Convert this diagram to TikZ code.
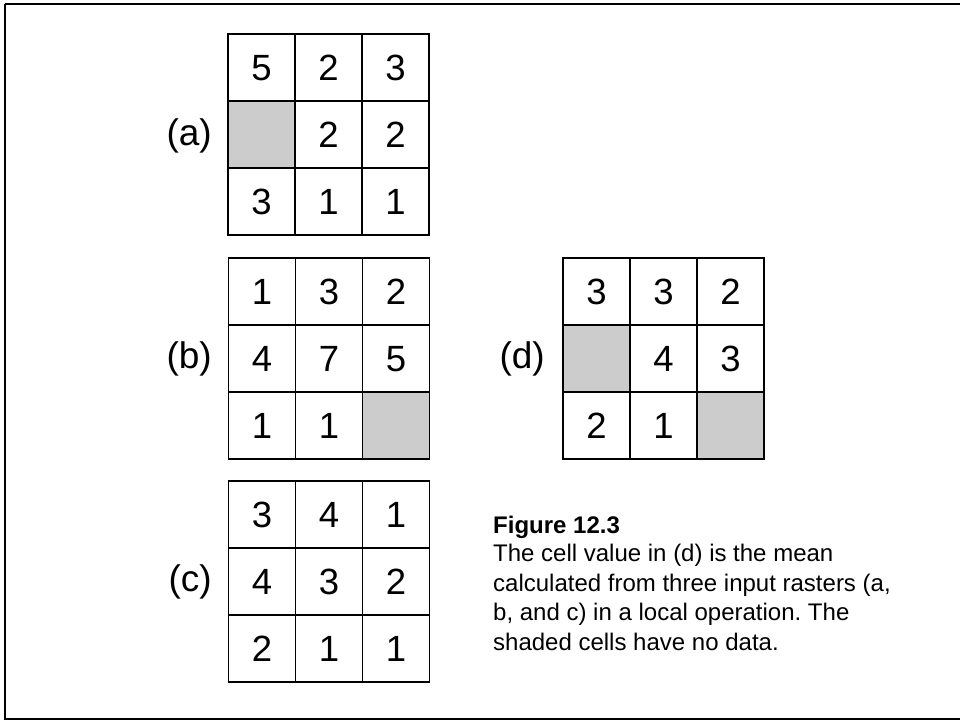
\documentclass[tikz,border=0pt]{standalone}
\usepackage{fontspec}
\setmainfont{Liberation Sans}
\frenchspacing
\definecolor{cellgray}{RGB}{204,204,204}
\tikzset{
  cell/.style={draw=black, line width=1.8pt, minimum size=67pt, inner sep=0pt,
    text height=26pt, text depth=0pt,
    font=\fontsize{36.5}{43}\selectfont},
  gridlabel/.style={anchor=east, inner sep=0pt, font=\fontsize{37}{44}\selectfont},
  captext/.style={anchor=base west, inner sep=0pt, font=\fontsize{24}{29}\selectfont},
  frame/.style={draw=black, line width=2.6pt}
}
\newcommand{\rastergrid}[4]{%
  \foreach \v/\f [count=\i from 0] in {#4} {
    \pgfmathtruncatemacro{\cc}{mod(\i,3)}
    \pgfmathtruncatemacro{\rr}{int(\i/3)}
    \node[cell, fill=\f] (#1-\rr-\cc) at ({#2+33.5+67*\cc},{#3+33.5+67*\rr}) {\v};
  }
}
\begin{document}
\begin{tikzpicture}[x=1pt,y=-1pt]
\useasboundingbox (0,0) rectangle (960,721);
\draw[frame] (5,4) -- (970,4);
\draw[frame] (5,4) -- (5,719) -- (970,719);

\rastergrid{a}{228}{34}{5/white,2/white,3/white,{}/cellgray,2/white,2/white,3/white,1/white,1/white}
\rastergrid{b}{228.5}{258}{1/white,3/white,2/white,4/white,7/white,5/white,1/white,1/white,{}/cellgray}
\rastergrid{c}{228.5}{481}{3/white,4/white,1/white,4/white,3/white,2/white,2/white,1/white,1/white}
\rastergrid{d}{563}{258}{3/white,3/white,2/white,{}/cellgray,4/white,3/white,2/white,1/white,{}/cellgray}

\node[gridlabel] (la) at (212,136) {(a)};
\node[gridlabel] (lb) at (212,359) {(b)};
\node[gridlabel] (lc) at (212,582) {(c)};
\node[gridlabel] (ld) at (545,359) {(d)};

\node[captext, font=\fontsize{24}{29}\selectfont\bfseries] (cap0) at (493,533) {Figure 12.3};
\node[captext] (cap1) at (493,561.7) {The cell value in (d) is the mean};
\node[captext] (cap2) at (493,591) {calculated from three input rasters (a,};
\node[captext] (cap3) at (493,620.5) {b, and c) in a local operation. The};
\node[captext] (cap4) at (493,650) {shaded cells have no data.};
\end{tikzpicture}
\end{document}
